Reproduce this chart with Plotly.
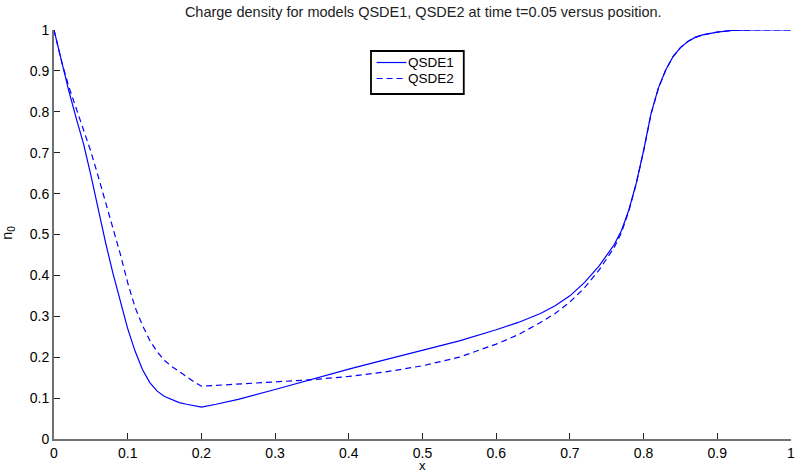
import plotly.graph_objects as go

# Charge density n_0(x) at t = 0.05 for the two quantum models
x_qsde1 = [0, 0.01, 0.02, 0.03, 0.04, 0.05, 0.06, 0.07, 0.08, 0.09, 0.10, 0.11,
           0.12, 0.13, 0.14, 0.15, 0.16, 0.17, 0.18, 0.19, 0.20, 0.22, 0.25, 0.30,
           0.35, 0.40, 0.45, 0.50, 0.55, 0.60, 0.63, 0.66, 0.68, 0.70, 0.72, 0.74, 0.76,
           0.77, 0.78, 0.79, 0.80, 0.81, 0.82, 0.83, 0.84, 0.85, 0.86, 0.87, 0.88,
           0.90, 0.92, 0.95, 1.0]
n_qsde1 = [1.0, 0.925, 0.852, 0.785, 0.722, 0.645, 0.560, 0.480, 0.405, 0.335, 0.270, 0.215,
           0.170, 0.138, 0.117, 0.104, 0.096, 0.089, 0.085, 0.081, 0.078, 0.085, 0.097, 0.121,
           0.146, 0.171, 0.194, 0.217, 0.240, 0.267, 0.285, 0.307, 0.326, 0.350, 0.383, 0.424, 0.475,
           0.510, 0.560, 0.625, 0.705, 0.795, 0.858, 0.902, 0.935, 0.957, 0.972, 0.982, 0.988,
           0.995, 0.999, 1.0, 1.0]

x_qsde2 = [0, 0.01, 0.02, 0.03, 0.04, 0.05, 0.06, 0.07, 0.08, 0.09, 0.10, 0.11,
           0.12, 0.13, 0.14, 0.15, 0.16, 0.17, 0.18, 0.19, 0.20, 0.22, 0.25, 0.30,
           0.35, 0.40, 0.45, 0.50, 0.55, 0.60, 0.63, 0.66, 0.68, 0.70, 0.72, 0.74, 0.76,
           0.77, 0.78, 0.79, 0.80, 0.81, 0.82, 0.83, 0.84, 0.85, 0.86, 0.87, 0.88,
           0.90, 0.92, 0.95, 1.0]
n_qsde2 = [1.0, 0.925, 0.862, 0.810, 0.760, 0.703, 0.642, 0.580, 0.518, 0.452, 0.382, 0.322,
           0.278, 0.241, 0.213, 0.192, 0.177, 0.164, 0.152, 0.140, 0.129, 0.131, 0.134, 0.139,
           0.145, 0.153, 0.164, 0.179, 0.200, 0.232, 0.255, 0.285, 0.307, 0.335, 0.370, 0.414, 0.468,
           0.505, 0.558, 0.624, 0.704, 0.794, 0.857, 0.902, 0.935, 0.957, 0.972, 0.982, 0.988,
           0.995, 0.999, 1.0, 1.0]

x_ticks = [0, 0.1, 0.2, 0.3, 0.4, 0.5, 0.6, 0.7, 0.8, 0.9, 1]
y_ticks = [0, 0.1, 0.2, 0.3, 0.4, 0.5, 0.6, 0.7, 0.8, 0.9, 1]
tick_text = ["0", "0.1", "0.2", "0.3", "0.4", "0.5", "0.6", "0.7", "0.8", "0.9", "1"]

series_names = ["QSDE1", "QSDE2"]
series_dash = ["solid", "6px,4px"]
line_color = "#0000ff"

font = "Liberation Sans, Arial, Helvetica, sans-serif"

fig = go.Figure()
for name, xs, ys, dash in zip(series_names, [x_qsde1, x_qsde2], [n_qsde1, n_qsde2], series_dash):
    fig.add_trace(go.Scatter(x=xs, y=ys, mode="lines", name=name,
                             line=dict(color=line_color, width=1.2, dash=dash)))

axis_common = dict(
    showgrid=False, zeroline=False, showline=True, linecolor="#707070", linewidth=2,
    ticks="inside", ticklen=6, tickwidth=1, tickcolor="#222222",
    tickfont=dict(family=font, size=14, color="#000000"),
    ticklabeloverflow="allow",
)

# Compact boxed legend (paper coordinates)
box = dict(x0=0.4301, x1=0.5560, y0=0.8435, y1=0.9487)
row_y = [0.9205, 0.8814]
sample_x = (0.4377, 0.4781)

shapes = [dict(type="rect", xref="paper", yref="paper", **box,
               line=dict(color="#000000", width=1.8), fillcolor="white", layer="above")]
annotations = []
for name, dash, ry in zip(series_names, series_dash, row_y):
    shapes.append(dict(type="line", xref="paper", yref="paper",
                       x0=sample_x[0], x1=sample_x[1], y0=ry, y1=ry,
                       line=dict(color=line_color, width=1.2, dash=dash), layer="above"))
    annotations.append(dict(text=name, xref="paper", yref="paper", x=sample_x[1], y=ry,
                            xanchor="left", yanchor="middle", showarrow=False,
                            font=dict(family=font, size=13.5, color="#000000")))

annotations += [
    dict(text="x", xref="paper", yref="paper", x=0.5, y=-0.066,
         xanchor="center", yanchor="middle", showarrow=False,
         font=dict(family=font, size=13)),
    dict(text="n<sub>0</sub>", xref="paper", yref="paper", x=-0.062, y=0.505,
         xanchor="center", yanchor="middle", showarrow=False, textangle=-90,
         font=dict(family=font, size=14.5)),
]

fig.update_layout(
    width=798, height=472,
    margin=dict(l=54, r=3, t=30, b=33),
    paper_bgcolor="white", plot_bgcolor="white",
    font=dict(family=font, color="#000000"),
    title=dict(text="Charge density for models QSDE1, QSDE2 at time t=0.05 versus position.",
               xref="paper", x=0.501, xanchor="center", y=0.975, yanchor="middle",
               font=dict(family=font, size=14.5, color="#222222")),
    xaxis=dict(range=[0, 1], tickvals=x_ticks, ticktext=tick_text, **axis_common),
    yaxis=dict(range=[0, 1], tickvals=y_ticks, ticktext=tick_text, **axis_common),
    showlegend=False,
    shapes=shapes,
    annotations=annotations,
)

fig.write_html("out.html")
